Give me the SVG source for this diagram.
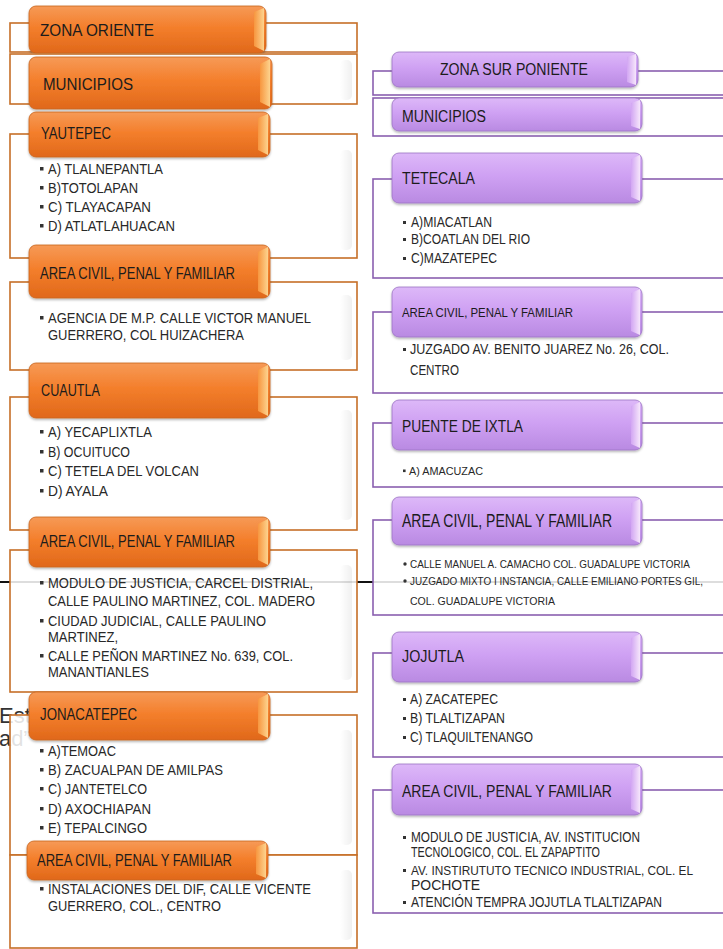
<svg xmlns="http://www.w3.org/2000/svg" width="723" height="949" viewBox="0 0 723 949">
<defs>
<linearGradient id="og" x1="0" y1="0" x2="0" y2="1">
<stop offset="0" stop-color="#F69A57"/><stop offset="0.45" stop-color="#F47F2C"/><stop offset="1" stop-color="#E0681A"/>
</linearGradient>
<linearGradient id="ob" x1="0" y1="0" x2="1" y2="0">
<stop offset="0" stop-color="#F7963F"/><stop offset="1" stop-color="#FDD38E"/>
</linearGradient>
<linearGradient id="pg" x1="0" y1="0" x2="0" y2="1">
<stop offset="0" stop-color="#DDB8F8"/><stop offset="0.45" stop-color="#CFA1F3"/><stop offset="1" stop-color="#B98AE2"/>
</linearGradient>
<linearGradient id="pb" x1="0" y1="0" x2="1" y2="0">
<stop offset="0" stop-color="#D2A6F3"/><stop offset="1" stop-color="#F6E6FB"/>
</linearGradient>
<linearGradient id="sh" x1="0" y1="0" x2="1" y2="0">
<stop offset="0" stop-color="#000" stop-opacity="0"/><stop offset="1" stop-color="#000" stop-opacity="0.06"/>
</linearGradient>
<filter id="ds" x="-5%" y="-10%" width="110%" height="130%">
<feDropShadow dx="0" dy="1.5" stdDeviation="1.2" flood-color="#000" flood-opacity="0.3"/>
</filter>
</defs>
<style>
.bo{fill:#fff;fill-opacity:0.86;stroke:#C66F27;stroke-width:1.6}
.bp{fill:#fff;fill-opacity:0.86;stroke:#8A5FB0;stroke-width:1.6}
.ho{fill:url(#og);stroke:#C9641C;stroke-width:0.8;filter:url(#ds)}
.hp{fill:url(#pg);stroke:#9C74C4;stroke-width:0.8;filter:url(#ds)}
.vo{fill:url(#ob)}
.vp{fill:url(#pb)}
.sd{fill:url(#sh)}
text{font-family:"Liberation Sans Narrow","Liberation Sans",Arial,sans-serif}
.t{fill:#1c1c1c}
.l{fill:#282828}
.b{fill:#333}
</style>
<g id="background">
<text x="-1" y="723" font-size="22" fill="#333">Est</text>
<text x="-1" y="746" font-size="22" fill="#333">ad”</text>
<line x1="0" y1="582" x2="723" y2="582" stroke="#111" stroke-width="2"/>
</g>
<g id="connectors"></g>

<g id="zona-oriente">
<rect class="bo" x="10" y="23" width="347" height="29"/>
<rect class="ho" x="29" y="6" width="237" height="47" rx="7"/>
<path class="vo" d="M254 12 L264 8 L264 51 L254 46 Z"/>
<text class="t" x="40" y="36" font-size="17" textLength="114" lengthAdjust="spacingAndGlyphs">ZONA ORIENTE</text>
</g>
<g id="municipios-oriente">
<rect class="bo" x="10" y="54" width="347" height="50"/>
<rect class="sd" x="340" y="60" width="12" height="40" rx="5"/>
<rect class="ho" x="29" y="57" width="243" height="52" rx="7"/>
<path class="vo" d="M260 64 L270 59 L270 107 L260 102 Z"/>
<text class="t" x="43" y="90" font-size="17" textLength="90" lengthAdjust="spacingAndGlyphs">MUNICIPIOS</text>
</g>
<g id="yautepec">
<rect class="bo" x="10" y="134" width="347" height="124"/>
<rect class="sd" x="340" y="150" width="12" height="100" rx="5"/>
<rect class="ho" x="29" y="112" width="241" height="45" rx="7"/>
<path class="vo" d="M258 118 L268 114 L268 155 L258 150 Z"/>
<text class="t" x="41" y="139" font-size="17" textLength="70" lengthAdjust="spacingAndGlyphs">YAUTEPEC</text>
<rect class="b" x="40" y="167" width="3.5" height="3.5"/>
<text class="l" x="48" y="174" font-size="15" textLength="115" lengthAdjust="spacingAndGlyphs">A) TLALNEPANTLA</text>
<rect class="b" x="40" y="186" width="3.5" height="3.5"/>
<text class="l" x="48" y="193" font-size="15" textLength="90" lengthAdjust="spacingAndGlyphs">B)TOTOLAPAN</text>
<rect class="b" x="40" y="205" width="3.5" height="3.5"/>
<text class="l" x="48" y="212" font-size="15" textLength="103" lengthAdjust="spacingAndGlyphs">C) TLAYACAPAN</text>
<rect class="b" x="40" y="224" width="3.5" height="3.5"/>
<text class="l" x="48" y="231" font-size="15" textLength="127" lengthAdjust="spacingAndGlyphs">D) ATLATLAHUACAN</text>
</g>
<g id="area-oriente-1">
<rect class="bo" x="10" y="282" width="347" height="88"/>
<rect class="sd" x="340" y="295" width="12" height="65" rx="5"/>
<rect class="ho" x="29" y="245" width="241" height="53" rx="7"/>
<path class="vo" d="M258 252 L268 247 L268 296 L258 291 Z"/>
<text class="t" x="40" y="279" font-size="16.5" textLength="195" lengthAdjust="spacingAndGlyphs">AREA CIVIL, PENAL Y FAMILIAR</text>
<rect class="b" x="40" y="316" width="3.5" height="3.5"/>
<text class="l" x="48" y="323" font-size="15" textLength="263" lengthAdjust="spacingAndGlyphs">AGENCIA DE M.P. CALLE VICTOR MANUEL</text>
<text class="l" x="48" y="340" font-size="15" textLength="196" lengthAdjust="spacingAndGlyphs">GUERRERO, COL HUIZACHERA</text>
</g>
<g id="cuautla">
<rect class="bo" x="10" y="397" width="347" height="133"/>
<rect class="sd" x="340" y="410" width="12" height="110" rx="5"/>
<rect class="ho" x="29" y="363" width="241" height="55" rx="7"/>
<path class="vo" d="M258 370 L268 365 L268 416 L258 411 Z"/>
<text class="t" x="41" y="396" font-size="17" textLength="59" lengthAdjust="spacingAndGlyphs">CUAUTLA</text>
<rect class="b" x="40" y="430" width="3.5" height="3.5"/>
<text class="l" x="48" y="437" font-size="15" textLength="104" lengthAdjust="spacingAndGlyphs">A) YECAPLIXTLA</text>
<rect class="b" x="40" y="450" width="3.5" height="3.5"/>
<text class="l" x="48" y="457" font-size="15" textLength="82" lengthAdjust="spacingAndGlyphs">B) OCUITUCO</text>
<rect class="b" x="40" y="469" width="3.5" height="3.5"/>
<text class="l" x="48" y="476" font-size="15" textLength="151" lengthAdjust="spacingAndGlyphs">C) TETELA DEL VOLCAN</text>
<rect class="b" x="40" y="489" width="3.5" height="3.5"/>
<text class="l" x="48" y="496" font-size="15" textLength="60" lengthAdjust="spacingAndGlyphs">D) AYALA</text>
</g>
<g id="area-oriente-2">
<rect class="bo" x="10" y="550" width="347" height="142"/>
<rect class="sd" x="340" y="565" width="12" height="115" rx="5"/>
<rect class="ho" x="29" y="517" width="241" height="50" rx="7"/>
<path class="vo" d="M258 524 L268 519 L268 565 L258 560 Z"/>
<text class="t" x="40" y="547" font-size="16.5" textLength="195" lengthAdjust="spacingAndGlyphs">AREA CIVIL, PENAL Y FAMILIAR</text>
<rect class="b" x="40" y="581" width="3.5" height="3.5"/>
<text class="l" x="48" y="588" font-size="15" textLength="265" lengthAdjust="spacingAndGlyphs">MODULO DE JUSTICIA, CARCEL DISTRIAL,</text>
<text class="l" x="48" y="606" font-size="15" textLength="267" lengthAdjust="spacingAndGlyphs">CALLE PAULINO MARTINEZ, COL. MADERO</text>
<rect class="b" x="40" y="619" width="3.5" height="3.5"/>
<text class="l" x="48" y="626" font-size="15" textLength="218" lengthAdjust="spacingAndGlyphs">CIUDAD JUDICIAL, CALLE PAULINO</text>
<text class="l" x="48" y="642" font-size="15" textLength="70" lengthAdjust="spacingAndGlyphs">MARTINEZ,</text>
<rect class="b" x="40" y="654" width="3.5" height="3.5"/>
<text class="l" x="48" y="661" font-size="15" textLength="245" lengthAdjust="spacingAndGlyphs">CALLE PEÑON MARTINEZ No. 639, COL.</text>
<text class="l" x="48" y="677" font-size="15" textLength="101" lengthAdjust="spacingAndGlyphs">MANANTIANLES</text>
</g>
<g id="jonacatepec">
<rect class="bo" x="10" y="715" width="347" height="140"/>
<rect class="sd" x="340" y="730" width="12" height="115" rx="5"/>
<rect class="ho" x="29" y="692" width="241" height="48" rx="7"/>
<path class="vo" d="M258 699 L268 694 L268 738 L258 733 Z"/>
<text class="t" x="40" y="720" font-size="17" textLength="97" lengthAdjust="spacingAndGlyphs">JONACATEPEC</text>
<rect class="b" x="40" y="749" width="3.5" height="3.5"/>
<text class="l" x="48" y="756" font-size="15" textLength="68" lengthAdjust="spacingAndGlyphs">A)TEMOAC</text>
<rect class="b" x="40" y="768" width="3.5" height="3.5"/>
<text class="l" x="48" y="775" font-size="15" textLength="175" lengthAdjust="spacingAndGlyphs">B) ZACUALPAN DE AMILPAS</text>
<rect class="b" x="40" y="787" width="3.5" height="3.5"/>
<text class="l" x="48" y="794" font-size="15" textLength="99" lengthAdjust="spacingAndGlyphs">C) JANTETELCO</text>
<rect class="b" x="40" y="807" width="3.5" height="3.5"/>
<text class="l" x="48" y="814" font-size="15" textLength="103" lengthAdjust="spacingAndGlyphs">D) AXOCHIAPAN</text>
<rect class="b" x="40" y="826" width="3.5" height="3.5"/>
<text class="l" x="48" y="833" font-size="15" textLength="99" lengthAdjust="spacingAndGlyphs">E) TEPALCINGO</text>
</g>
<g id="area-oriente-3">
<rect class="bo" x="10" y="855" width="347" height="93"/>
<rect class="sd" x="340" y="870" width="12" height="70" rx="5"/>
<rect class="ho" x="27" y="841" width="241" height="39" rx="7"/>
<path class="vo" d="M256 847 L266 843 L266 878 L256 874 Z"/>
<text class="t" x="37" y="866" font-size="16.5" textLength="195" lengthAdjust="spacingAndGlyphs">AREA CIVIL, PENAL Y FAMILIAR</text>
<rect class="b" x="40" y="887" width="3.5" height="3.5"/>
<text class="l" x="48" y="894" font-size="15" textLength="263" lengthAdjust="spacingAndGlyphs">INSTALACIONES DEL DIF, CALLE VICENTE</text>
<text class="l" x="48" y="911" font-size="15" textLength="173" lengthAdjust="spacingAndGlyphs">GUERRERO, COL., CENTRO</text>
</g>

<g id="zona-sur-poniente">
<rect class="bp" x="373" y="71" width="360" height="24"/>
<rect class="hp" x="392" y="52" width="246" height="35" rx="7"/>
<path class="vp" d="M627 57 L636 54 L636 85 L627 82 Z"/>
<text class="t" x="440" y="75" font-size="16" textLength="148" lengthAdjust="spacingAndGlyphs">ZONA SUR PONIENTE</text>
</g>
<g id="municipios-poniente">
<rect class="bp" x="373" y="98" width="360" height="38"/>
<rect class="hp" x="392" y="98" width="250" height="33" rx="7"/>
<path class="vp" d="M631 103 L640 100 L640 129 L631 126 Z"/>
<text class="t" x="402" y="122" font-size="16" textLength="84" lengthAdjust="spacingAndGlyphs">MUNICIPIOS</text>
</g>
<g id="tetecala">
<rect class="bp" x="373" y="179" width="360" height="99"/>
<rect class="hp" x="392" y="153" width="250" height="50" rx="7"/>
<path class="vp" d="M631 159 L640 155 L640 201 L631 197 Z"/>
<text class="t" x="402" y="184" font-size="17" textLength="73" lengthAdjust="spacingAndGlyphs">TETECALA</text>
<rect class="b" x="403" y="221" width="3" height="3"/>
<text class="l" x="411" y="227" font-size="14" textLength="81" lengthAdjust="spacingAndGlyphs">A)MIACATLAN</text>
<rect class="b" x="403" y="238" width="3" height="3"/>
<text class="l" x="411" y="244" font-size="14" textLength="119" lengthAdjust="spacingAndGlyphs">B)COATLAN DEL RIO</text>
<rect class="b" x="403" y="257" width="3" height="3"/>
<text class="l" x="411" y="263" font-size="14" textLength="86" lengthAdjust="spacingAndGlyphs">C)MAZATEPEC</text>
</g>
<g id="area-poniente-1">
<rect class="bp" x="373" y="312" width="360" height="81"/>
<rect class="hp" x="392" y="287" width="250" height="50" rx="7"/>
<path class="vp" d="M631 293 L640 289 L640 335 L631 331 Z"/>
<text class="t" x="402" y="317" font-size="13" textLength="171" lengthAdjust="spacingAndGlyphs">AREA CIVIL, PENAL Y FAMILIAR</text>
<rect class="b" x="403" y="348" width="3" height="3"/>
<text class="l" x="410" y="354" font-size="14" textLength="259" lengthAdjust="spacingAndGlyphs">JUZGADO AV. BENITO JUAREZ No. 26, COL.</text>
<text class="l" x="410" y="375" font-size="14" textLength="49" lengthAdjust="spacingAndGlyphs">CENTRO</text>
</g>
<g id="puente-de-ixtla">
<rect class="bp" x="373" y="423" width="360" height="64"/>
<rect class="hp" x="392" y="400" width="250" height="50" rx="7"/>
<path class="vp" d="M631 406 L640 402 L640 448 L631 444 Z"/>
<text class="t" x="402" y="432" font-size="17" textLength="121" lengthAdjust="spacingAndGlyphs">PUENTE DE IXTLA</text>
<rect class="b" x="403" y="469.5" width="2.6" height="2.6"/>
<text class="l" x="409" y="475" font-size="11.5" textLength="74" lengthAdjust="spacingAndGlyphs">A) AMACUZAC</text>
</g>
<g id="area-poniente-2">
<rect class="bp" x="373" y="520" width="360" height="95"/>
<rect class="hp" x="392" y="497" width="250" height="48" rx="7"/>
<path class="vp" d="M631 503 L640 499 L640 543 L631 539 Z"/>
<text class="t" x="402" y="527" font-size="18" textLength="210" lengthAdjust="spacingAndGlyphs">AREA CIVIL, PENAL Y FAMILIAR</text>
<circle class="b" cx="405" cy="564" r="1.7"/>
<text class="l" x="410" y="568" font-size="10.8" textLength="280" lengthAdjust="spacingAndGlyphs">CALLE MANUEL A. CAMACHO COL. GUADALUPE VICTORIA</text>
<circle class="b" cx="405" cy="581" r="1.7"/>
<text class="l" x="410" y="585" font-size="10.3" textLength="293" lengthAdjust="spacingAndGlyphs">JUZGADO MIXTO I INSTANCIA, CALLE EMILIANO PORTES GIL,</text>
<text class="l" x="410" y="605" font-size="11" textLength="145" lengthAdjust="spacingAndGlyphs">COL. GUADALUPE VICTORIA</text>
</g>
<g id="jojutla">
<rect class="bp" x="373" y="653" width="360" height="104"/>
<rect class="hp" x="392" y="632" width="250" height="50" rx="7"/>
<path class="vp" d="M631 638 L640 634 L640 680 L631 676 Z"/>
<text class="t" x="402" y="662" font-size="16" textLength="62" lengthAdjust="spacingAndGlyphs">JOJUTLA</text>
<rect class="b" x="403" y="698" width="3" height="3"/>
<text class="l" x="410" y="704" font-size="14" textLength="88" lengthAdjust="spacingAndGlyphs">A) ZACATEPEC</text>
<rect class="b" x="403" y="717" width="3" height="3"/>
<text class="l" x="410" y="723" font-size="14" textLength="95" lengthAdjust="spacingAndGlyphs">B) TLALTIZAPAN</text>
<rect class="b" x="403" y="736" width="3" height="3"/>
<text class="l" x="410" y="742" font-size="14" textLength="123" lengthAdjust="spacingAndGlyphs">C) TLAQUILTENANGO</text>
</g>
<g id="area-poniente-3">
<rect class="bp" x="373" y="790" width="360" height="123"/>
<rect class="hp" x="392" y="764" width="250" height="51" rx="7"/>
<path class="vp" d="M631 770 L640 766 L640 813 L631 809 Z"/>
<text class="t" x="402" y="797" font-size="16" textLength="210" lengthAdjust="spacingAndGlyphs">AREA CIVIL, PENAL Y FAMILIAR</text>
<rect class="b" x="403" y="836" width="3" height="3"/>
<text class="l" x="411" y="842" font-size="14.5" textLength="229" lengthAdjust="spacingAndGlyphs">MODULO DE JUSTICIA, AV. INSTITUCION</text>
<text class="l" x="411" y="857" font-size="14.5" textLength="189" lengthAdjust="spacingAndGlyphs">TECNOLOGICO, COL. EL ZAPAPTITO</text>
<rect class="b" x="403" y="869" width="3" height="3"/>
<text class="l" x="411" y="875" font-size="12.9" textLength="282" lengthAdjust="spacingAndGlyphs">AV. INSTIRUTUTO TECNICO INDUSTRIAL, COL. EL</text>
<text class="l" x="411" y="890" font-size="14.5" textLength="69" lengthAdjust="spacingAndGlyphs">POCHOTE</text>
<rect class="b" x="403" y="901" width="3" height="3"/>
<text class="l" x="411" y="907" font-size="14.5" textLength="251" lengthAdjust="spacingAndGlyphs">ATENCIÓN TEMPRA JOJUTLA TLALTIZAPAN</text>
</g>
</svg>
